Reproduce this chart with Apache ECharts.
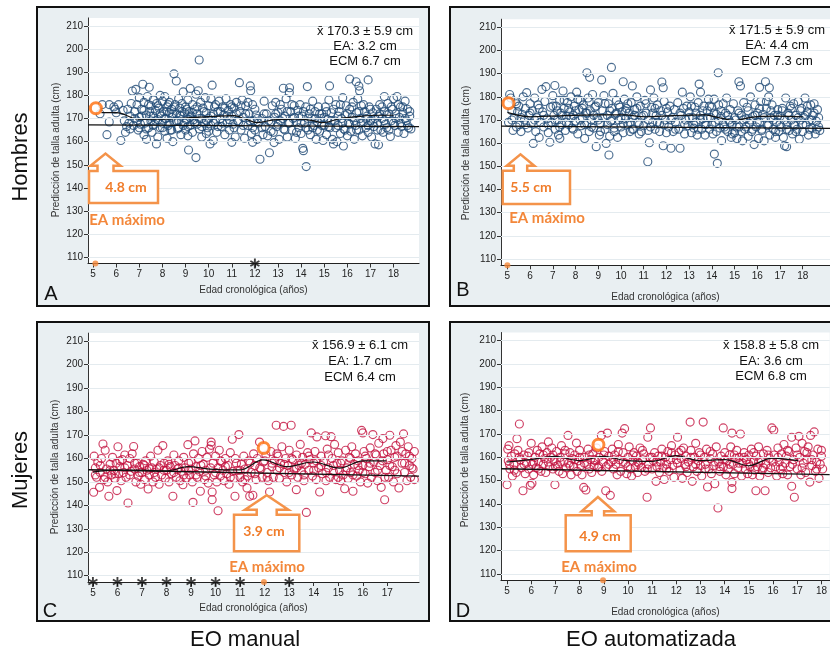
<!DOCTYPE html>
<html><head><meta charset="utf-8">
<script src="https://cdn.jsdelivr.net/npm/echarts@6/dist/echarts.min.js"></script>
<style>html,body{margin:0;padding:0;background:#fff}#c{width:830px;height:654px}</style>
</head><body><div id="c"></div>
<script>
// ---------------- DATA ----------------
const yTicks = [110,120,130,140,150,160,170,180,190,200,210];
const xTicksFull = [5,6,7,8,9,10,11,12,13,14,15,16,17,18];
const xTicksC = [5,6,7,8,9,10,11,12,13,14,15,16,17];

const statsA = ['x\u0304 170.3 \u00b1 5.9 cm','EA: 3.2 cm','ECM 6.7 cm'];
const statsB = ['x\u0304 171.5 \u00b1 5.9 cm','EA: 4.4 cm','ECM 7.3 cm'];
const statsC = ['x\u0304 156.9 \u00b1 6.1 cm','EA: 1.7 cm','ECM 6.4 cm'];
const statsD = ['x\u0304 158.8 \u00b1 5.8 cm','EA: 3.6 cm','ECM 6.8 cm'];
const maxErrA = '4.8 cm', maxErrB = '5.5 cm', maxErrC = '3.9 cm', maxErrD = '4.9 cm';

// Hombres - EO manual (A)
const hombresManual = [[5.3,172],[5.4,176],[5.6,163],[5.7,176],[5.7,168.5],[5.9,175],[5.95,174],[6.0,172.5],[6.1,176],[6.2,160.5],[6.3,173.5],[6.35,169],[6.4,164],[6.45,166.5],[6.5,174],[6.6,171],[6.6,165.5],[6.7,181.9],[6.75,167],[6.8,173],[6.85,182.6],[6.9,169],[6.9,176],[6.95,165],[7.0,179],[7.0,170.5],[7.05,167.5],[7.1,174],[7.15,184.8],[7.2,163],[7.2,177],[7.25,168],[7.3,171.5],[7.31,161],[7.35,179.5],[7.4,166],[7.43,183.5],[7.45,173],[7.5,169],[7.5,175.5],[7.55,164],[7.6,171],[7.6,178],[7.65,167.5],[7.7,173.5],[7.74,159],[7.75,176.5],[7.8,169.5],[7.8,162],[7.85,174.5],[7.9,180],[7.9,166],[7.95,171],[8.0,177.5],[8.0,168],[8.05,173],[8.1,164.5],[8.1,179.5],[8.15,170],[8.2,175],[8.2,161.5],[8.25,167],[8.3,172.5],[8.3,177],[8.35,165],[8.4,170.5],[8.4,174],[8.45,160],[8.5,189.3],[8.5,168.5],[8.55,176],[8.6,186.2],[8.6,172],[8.65,165.5],[8.7,178.5],[8.7,169],[8.75,174.5],[8.8,163],[8.8,171],[8.85,176.5],[8.9,167],[8.9,181.5],[8.95,172.5],[9.0,165],[9.0,175],[9.05,169.5],[9.1,178],[9.1,162.5],[9.13,156.4],[9.15,173],[9.2,183],[9.2,167],[9.25,171],[9.3,176],[9.3,164],[9.35,169.5],[9.4,174],[9.45,153.1],[9.45,180.5],[9.5,167.5],[9.5,172],[9.55,182],[9.59,195.3],[9.6,165.5],[9.65,177],[9.7,170],[9.7,162],[9.75,174.5],[9.8,168],[9.85,179],[9.9,172.5],[9.9,163.5],[9.95,166],[10.0,175.5],[10.0,170],[10.06,159],[10.1,178.5],[10.1,167],[10.15,184.4],[10.2,172],[10.2,160.5],[10.25,175],[10.3,168.5],[10.35,164],[10.4,173],[10.45,177.5],[10.5,170],[10.55,166.5],[10.6,175],[10.65,171.5],[10.7,163],[10.75,178.5],[10.8,168],[10.85,173.5],[10.9,165],[10.95,176],[11.0,159.7],[11.0,171],[11.05,167.5],[11.1,174.5],[11.15,162],[11.2,177],[11.25,169],[11.33,185.5],[11.35,173],[11.4,165],[11.45,178],[11.5,170.5],[11.55,161.5],[11.6,175.5],[11.7,167],[11.75,172],[11.8,184.1],[11.82,182],[11.85,163.5],[11.9,159.7],[11.9,176],[11.95,169],[12.0,165],[12.05,171.5],[12.1,161],[12.15,168],[12.22,152.4],[12.3,170],[12.35,163],[12.4,177.5],[12.45,166.5],[12.5,172],[12.55,162.5],[12.63,155.2],[12.7,168.5],[12.75,175.5],[12.8,164],[12.83,159.6],[12.85,170.5],[12.9,177],[12.95,166.5],[13.0,172.5],[13.05,161],[13.1,169],[13.15,174],[13.23,183.1],[13.25,165.5],[13.3,171],[13.35,178.5],[13.4,162],[13.45,168],[13.49,181.2],[13.5,183.3],[13.55,173],[13.6,165],[13.65,170],[13.7,175.5],[13.75,161.5],[13.8,168.5],[13.85,173.5],[13.9,166],[13.95,176],[14.0,163.5],[14.05,171],[14.07,157.1],[14.1,156.1],[14.15,168],[14.2,175],[14.22,149.2],[14.27,183.8],[14.3,165],[14.35,172],[14.4,163],[14.45,170],[14.5,177.5],[14.55,167],[14.6,173],[14.65,161],[14.7,168.5],[14.75,175],[14.8,164.5],[14.85,170],[14.9,172],[14.95,160.5],[15.0,167],[15.05,175],[15.1,163],[15.15,169.5],[15.2,178],[15.23,184.1],[15.25,166],[15.3,172.5],[15.35,161],[15.4,159],[15.45,169],[15.5,176],[15.55,160],[15.6,167],[15.65,173],[15.7,163.5],[15.75,170],[15.8,179],[15.83,158.1],[15.85,165.5],[15.9,171.5],[15.95,175.5],[16.0,162.5],[16.05,168],[16.1,187.1],[16.1,174],[16.15,164.5],[16.2,170.5],[16.25,177],[16.3,161],[16.35,167],[16.38,185.9],[16.4,172.5],[16.45,178.5],[16.5,184],[16.5,165],[16.53,182],[16.55,170],[16.6,175.5],[16.65,162.5],[16.7,168.5],[16.75,173],[16.8,166],[16.85,171],[16.9,186.7],[16.9,164],[16.95,175],[17.0,169],[17.05,162],[17.1,172.5],[17.15,166.5],[17.2,159],[17.25,174],[17.3,168],[17.35,158.6],[17.35,171],[17.4,176],[17.45,165],[17.5,170],[17.55,164],[17.6,179.5],[17.6,173],[17.65,167.5],[17.7,171.5],[17.75,176.5],[17.8,165],[17.86,162.2],[17.9,169],[17.95,174],[18.0,178.5],[18.05,167],[18.1,172],[18.15,179.5],[18.2,164],[18.25,170.5],[18.3,175],[18.35,166.5],[18.4,172.5],[18.45,163.5],[18.5,177.5],[18.55,169],[18.6,174],[18.65,166],[18.7,171],[18.75,165.5]];
const hombresManualCore = [[6.55,168],[6.65,176.5],[6.8,170],[7.0,166],[7.1,171],[7.2,173.5],[7.3,165.5],[7.4,176],[7.5,171],[7.6,167],[7.7,169],[7.8,175.5],[7.9,172],[8.0,166],[8.1,170],[8.2,173],[8.25,176],[8.3,168],[8.4,165],[8.45,172],[8.5,175],[8.6,169],[8.7,166],[8.75,171.5],[8.85,173],[8.95,168],[9.05,174],[9.1,166.5],[9.2,170.5],[9.3,172.5],[9.4,168],[9.5,175],[9.6,170],[9.7,166.5],[9.8,173],[9.9,169],[10.0,164.5],[10.1,171],[10.2,168],[10.3,176],[10.4,166.5],[10.5,173],[10.6,168],[10.7,174.5],[10.8,171],[10.9,169.5],[11.0,175],[11.1,166],[11.2,172],[11.3,168.5],[11.4,175.5],[11.5,167],[11.6,172],[11.7,177],[11.8,169],[11.9,166],[12.0,174],[12.1,170],[12.3,166],[12.4,172],[12.6,169],[12.7,164.5],[12.9,172],[13.0,167.5],[13.1,176],[13.2,170],[13.3,165],[13.4,173],[13.5,168],[13.6,176],[13.7,170.5],[13.8,164],[13.9,171],[14.0,168],[14.1,173],[14.2,166],[14.3,170],[14.4,174],[14.5,166],[14.6,170],[14.7,165],[14.8,172],[14.9,167],[15.0,170.5],[15.1,173],[15.2,166.5],[15.3,169],[15.4,174],[15.5,166],[15.6,171],[15.7,176],[15.8,168],[15.9,165],[16.0,172],[16.1,167.5],[16.2,175],[16.3,169],[16.4,165],[16.5,173],[16.6,168],[16.7,176],[16.8,170],[16.9,167],[17.0,174],[17.1,168],[17.2,170],[17.3,165],[17.4,172],[17.5,175],[17.6,169],[17.7,166],[17.8,172],[17.9,175],[18.0,168],[18.1,170],[18.2,176],[18.3,168],[18.4,175],[18.5,170],[18.6,167],[18.7,173]];

// Hombres - EO automatizada (B)
const hombresAuto = [[5.05,169],[5.1,181],[5.15,179.5],[5.2,174],[5.25,165.5],[5.3,171],[5.35,178],[5.4,167],[5.45,173.5],[5.5,176],[5.55,168],[5.6,165],[5.65,172.5],[5.7,180],[5.75,170],[5.8,175],[5.85,181.8],[5.9,166.5],[5.95,172],[6.0,177],[6.05,168.5],[6.1,174],[6.14,159.9],[6.2,179.5],[6.25,165],[6.3,171],[6.35,176.5],[6.4,162.5],[6.45,169],[6.52,183.2],[6.55,173.5],[6.6,167],[6.65,178],[6.7,184.4],[6.75,170.5],[6.8,164.5],[6.87,160.4],[6.9,175.5],[6.95,169],[7.0,180.5],[7.05,172],[7.09,184.9],[7.1,166],[7.15,176],[7.2,170],[7.25,163.5],[7.3,178.5],[7.31,162.1],[7.35,173],[7.4,168],[7.45,182.5],[7.5,175],[7.55,165.5],[7.6,171.5],[7.65,177.5],[7.7,168],[7.75,173.5],[7.8,180],[7.85,166.5],[7.9,172],[7.95,176],[8.0,169.5],[8.05,182],[8.1,164],[8.15,174.5],[8.2,178.5],[8.25,167.5],[8.3,171],[8.35,176.5],[8.4,162],[8.45,173],[8.5,190.4],[8.5,168.5],[8.55,179.5],[8.6,165],[8.62,188.4],[8.65,174],[8.7,170],[8.75,181],[8.8,166.5],[8.85,175.5],[8.91,158.5],[8.95,171],[9.0,177.5],[9.05,163.5],[9.1,168.5],[9.15,187.3],[9.2,174],[9.25,180.5],[9.3,166],[9.35,159.9],[9.4,172],[9.45,177],[9.47,154.9],[9.5,163],[9.55,169.5],[9.58,192.7],[9.6,175],[9.65,181.5],[9.7,166.5],[9.75,172.5],[9.8,178.5],[9.85,162.5],[9.9,170],[9.95,175.5],[10.0,167],[10.05,173.5],[10.1,186.5],[10.1,164.5],[10.15,179],[10.2,170.5],[10.25,175],[10.3,168],[10.35,173],[10.4,165],[10.45,177.5],[10.5,184.7],[10.5,171],[10.55,166],[10.6,174.5],[10.7,180],[10.75,169],[10.8,164],[10.85,176],[10.9,171.5],[11.0,167.5],[11.05,178.5],[11.1,173],[11.18,152],[11.2,165.5],[11.25,160.2],[11.3,183],[11.35,175.5],[11.4,169],[11.45,179.5],[11.5,166],[11.55,172],[11.6,176.5],[11.7,168.5],[11.75,174],[11.8,186.4],[11.86,183.9],[11.86,158.9],[11.9,178],[11.95,170],[12.0,164.5],[12.05,173.5],[12.1,167],[12.15,176],[12.2,157.8],[12.25,171],[12.3,165],[12.35,174.5],[12.4,169],[12.5,177.5],[12.55,166],[12.6,157.8],[12.65,172],[12.7,182],[12.75,175],[12.8,164],[12.85,170],[12.9,176],[12.95,167.5],[13.0,173.5],[13.05,180],[13.1,164.5],[13.15,171],[13.2,166.5],[13.25,175.5],[13.3,169],[13.35,163.5],[13.4,177.5],[13.44,185.5],[13.5,182],[13.5,172],[13.55,166],[13.6,170.5],[13.65,176],[13.7,163.5],[13.75,168],[13.8,174],[13.85,179],[13.9,166],[13.95,171],[14.0,175.5],[14.05,164],[14.1,179],[14.11,155.3],[14.15,169],[14.2,172.5],[14.24,151.3],[14.28,190.4],[14.3,176.5],[14.35,166.5],[14.4,171.5],[14.43,161.1],[14.5,177],[14.55,167],[14.6,173],[14.65,179.5],[14.7,165],[14.75,170],[14.8,174.5],[14.85,162.5],[14.9,168],[14.95,177],[15.0,164.5],[15.05,170],[15.1,162],[15.15,174],[15.19,186.5],[15.2,167],[15.26,184.7],[15.3,172],[15.35,161],[15.4,177.5],[15.45,166],[15.5,170.5],[15.55,175.5],[15.6,163],[15.65,168.5],[15.7,180],[15.75,165],[15.8,171.5],[15.86,159.4],[15.9,176.5],[15.95,167],[16.0,173],[16.05,162],[16.1,184.1],[16.1,169],[16.15,178],[16.2,165.5],[16.25,172.5],[16.3,161],[16.36,186.5],[16.4,175],[16.45,167.5],[16.5,180],[16.53,183.9],[16.55,163.5],[16.6,171],[16.65,176.5],[16.7,166],[16.75,172],[16.8,162.5],[16.85,169],[16.9,174.5],[16.95,165],[17.0,171.5],[17.05,167],[17.1,175],[17.15,162.5],[17.2,158.9],[17.25,179.5],[17.29,158.5],[17.3,168],[17.35,173],[17.4,165.5],[17.45,176],[17.5,170],[17.55,164],[17.6,177],[17.65,167.5],[17.7,172],[17.75,166],[17.8,178],[17.85,161.7],[17.9,170],[17.95,175],[18.0,165],[18.05,171],[18.1,179.5],[18.15,168],[18.2,173.5],[18.25,163.5],[18.3,170],[18.35,176.5],[18.4,166.5],[18.45,172],[18.5,177],[18.55,164],[18.6,169.5],[18.65,174.5],[18.7,167],[18.75,165.5]];
const hombresAutoCore = [[5.2,170],[5.4,177],[5.6,171],[5.8,168],[6.0,173],[6.2,170],[6.4,175],[6.6,172],[6.8,168],[7.0,176],[7.1,170],[7.2,174],[7.3,167],[7.4,172],[7.5,178.5],[7.6,169],[7.7,175],[7.8,171],[7.9,166],[8.0,174],[8.1,179],[8.2,170],[8.3,175],[8.4,168],[8.5,173],[8.6,178],[8.7,167],[8.8,172],[8.9,176],[9.0,170],[9.1,165],[9.2,171],[9.3,177],[9.4,168],[9.5,174],[9.6,170],[9.7,165],[9.8,173],[9.9,176.5],[10.0,171],[10.1,168.5],[10.2,174],[10.3,177],[10.4,169],[10.5,166],[10.6,172],[10.7,175],[10.8,168],[10.9,165],[11.0,172],[11.1,177],[11.2,170],[11.3,167],[11.4,173],[11.5,175],[11.6,169],[11.7,165],[11.8,172],[11.9,168],[12.0,175],[12.2,170],[12.4,166],[12.6,173],[12.8,168],[13.0,171],[13.1,176],[13.2,168],[13.3,173],[13.4,166],[13.5,170],[13.6,174],[13.7,168],[13.8,171],[13.9,176],[14.0,168],[14.1,173],[14.2,165],[14.3,170],[14.4,174],[14.5,168],[14.6,166],[14.7,172],[14.8,169],[14.9,164],[15.0,171],[15.1,167],[15.2,173],[15.3,165],[15.4,170],[15.5,167],[15.6,174],[15.7,170],[15.8,166],[15.9,172],[16.0,169],[16.1,175],[16.2,166],[16.3,171],[16.4,178],[16.5,168],[16.6,174],[16.7,170],[16.8,165],[16.9,172],[17.0,168],[17.1,174],[17.2,170],[17.3,166],[17.4,172],[17.5,175],[17.6,168],[17.7,165],[17.8,171],[17.9,174],[18.0,168],[18.1,172],[18.2,176],[18.3,166],[18.4,170],[18.5,173],[18.6,166],[18.7,171]];

// Mujeres - EO manual (C)
const mujeresManual = [[5.03,145.6],[5.05,161],[5.1,156],[5.15,152],[5.2,158.5],[5.27,147.7],[5.3,154],[5.35,160],[5.41,166.2],[5.45,151],[5.5,163.5],[5.55,155.5],[5.6,150],[5.65,143.9],[5.7,157.5],[5.75,153],[5.8,160.5],[5.85,155],[5.9,151.5],[5.95,158],[5.98,146.3],[6.02,165],[6.05,153.5],[6.1,156.5],[6.15,150.5],[6.2,159.5],[6.25,154],[6.3,161.5],[6.35,152],[6.4,157],[6.43,141],[6.5,160],[6.55,154.5],[6.6,162],[6.66,165.1],[6.7,155.5],[6.75,150],[6.8,158],[6.85,152.5],[6.9,156.5],[6.95,149],[7.0,154],[7.05,157.5],[7.1,151],[7.15,159],[7.2,155],[7.25,147],[7.3,153],[7.35,161],[7.4,156],[7.45,150],[7.5,158.5],[7.55,152],[7.6,155.5],[7.65,163.5],[7.7,149],[7.75,157],[7.8,153],[7.85,165.5],[7.9,158],[7.95,151.5],[8.0,155],[8.05,159],[8.1,150],[8.15,156.5],[8.2,153.5],[8.26,143.9],[8.3,161.5],[8.35,157],[8.4,152],[8.45,155.5],[8.5,159],[8.55,150.5],[8.6,154.5],[8.67,148.8],[8.7,160.5],[8.75,156],[8.8,151.5],[8.87,165.9],[8.9,158],[8.95,153],[9.0,155.5],[9.05,150],[9.08,141.3],[9.1,162],[9.16,167.5],[9.2,156.5],[9.25,152],[9.3,160],[9.35,154.5],[9.38,146],[9.45,163],[9.5,157.5],[9.55,151],[9.6,155],[9.65,160.5],[9.7,149.5],[9.75,164],[9.82,167],[9.82,165.6],[9.86,142.4],[9.86,145.7],[9.9,158],[9.95,153],[10.0,161],[10.05,150],[10.1,137.7],[10.1,156],[10.15,163.5],[10.2,152.5],[10.25,158.5],[10.3,155],[10.35,150.5],[10.4,160],[10.45,153.5],[10.5,157],[10.55,149],[10.6,162.5],[10.68,168.2],[10.7,154.5],[10.75,151.5],[10.79,143.9],[10.85,158],[10.9,155],[10.95,170.2],[11.0,152],[11.05,157.5],[11.1,150],[11.15,161],[11.2,155.5],[11.28,147.4],[11.3,152.5],[11.35,159],[11.39,143.9],[11.45,154],[11.52,144.3],[11.55,162],[11.6,157],[11.65,151],[11.7,160],[11.79,167],[11.85,155.5],[11.9,152],[11.95,158.5],[12.05,161.5],[12.1,154],[12.15,150.5],[12.2,145.7],[12.25,163],[12.3,156.5],[12.35,152],[12.4,159],[12.47,174.2],[12.5,155],[12.55,161],[12.6,151.5],[12.65,158],[12.7,165],[12.77,173.7],[12.8,154],[12.85,160],[12.9,150],[12.95,157],[13.0,163.5],[13.08,174.2],[13.1,153],[13.15,159.5],[13.2,155.5],[13.29,146.7],[13.3,161.5],[13.35,152],[13.4,157],[13.45,166],[13.5,154.5],[13.55,160.5],[13.6,150.5],[13.65,157.5],[13.7,137],[13.75,162.5],[13.8,155],[13.85,159.5],[13.9,170.9],[13.95,152.5],[14.0,158],[14.05,163],[14.1,151],[14.13,169.2],[14.2,156],[14.24,145.7],[14.3,161],[14.35,153.5],[14.4,158.5],[14.48,169.7],[14.5,150.5],[14.55,164],[14.6,156],[14.65,152],[14.71,169.3],[14.75,160],[14.8,154.5],[14.85,166],[14.9,151],[14.95,158],[15.0,162.5],[15.05,155],[15.1,150.5],[15.15,159],[15.2,153],[15.26,147.1],[15.3,163.5],[15.35,156],[15.4,151.5],[15.45,160.5],[15.5,154],[15.55,165],[15.6,146],[15.65,157.5],[15.7,162],[15.75,152.5],[15.8,159],[15.85,155],[15.9,150],[15.95,172],[16.0,170.9],[16.0,157],[16.05,163],[16.1,153.5],[16.15,160],[16.2,149.5],[16.25,156.5],[16.3,164.5],[16.35,152],[16.41,170.2],[16.45,158.5],[16.5,154],[16.55,161.5],[16.6,150.5],[16.65,166.5],[16.7,157],[16.75,147.7],[16.82,168.5],[16.85,162],[16.89,142.4],[16.95,155],[17.0,159.5],[17.05,152],[17.1,169.9],[17.15,163.5],[17.2,156.5],[17.25,150],[17.3,160.5],[17.35,165.5],[17.4,153.5],[17.47,147.4],[17.53,167],[17.6,158],[17.66,170.5],[17.7,154],[17.75,162],[17.8,150.5],[17.85,165],[17.9,157],[17.95,152],[18.0,160],[18.05,155.5],[18.1,151]];
const mujeresManualCore = [[5.1,153],[5.3,157],[5.5,152],[5.7,155],[5.9,153.5],[6.1,159],[6.3,156],[6.5,153],[6.7,158],[6.9,154],[7.1,157],[7.3,155.5],[7.5,154],[7.7,156],[7.9,155],[8.1,157.5],[8.3,154],[8.5,156],[8.7,153],[8.9,155],[9.0,158.5],[9.2,153],[9.4,157],[9.6,152.5],[9.8,156],[10.0,154],[10.2,159],[10.4,156.5],[10.6,152],[10.8,160],[11.0,155],[11.2,151],[11.4,158],[11.6,153.5],[11.8,156],[12.0,159],[12.1,152],[12.3,158],[12.5,162],[12.6,156],[12.8,157.5],[13.0,154],[13.1,160],[13.3,156],[13.5,158],[13.6,153],[13.8,161],[14.0,155],[14.1,159],[14.3,157],[14.5,154],[14.6,161.5],[14.8,157],[15.0,152],[15.1,158],[15.3,155],[15.5,160],[15.6,153],[15.8,157],[16.0,154],[16.1,161],[16.3,158],[16.5,162],[16.6,155],[16.8,159],[16.9,152],[17.0,163],[17.1,157],[17.3,155],[17.4,161],[17.6,163],[17.7,158],[17.9,161],[18.0,156],[18.1,163]];

// Mujeres - EO automatizada (D)
const mujeresAuto = [[5.0,148.3],[5.03,163.5],[5.05,158.5],[5.08,165],[5.12,155],[5.18,160.5],[5.22,152],[5.28,157],[5.32,161.5],[5.38,153.5],[5.41,168],[5.45,163],[5.51,174.3],[5.55,159],[5.6,155.5],[5.66,145.7],[5.7,161],[5.75,153],[5.8,157.5],[5.85,160.5],[5.9,155],[5.96,148],[6.0,166],[6.03,148.9],[6.05,157],[6.1,152.5],[6.15,160],[6.2,155.5],[6.25,163],[6.3,158],[6.35,161.5],[6.4,154],[6.45,164.5],[6.5,157],[6.55,159.5],[6.6,153.5],[6.65,162],[6.71,166.6],[6.75,156],[6.8,160],[6.85,164],[6.9,155],[6.95,158.5],[6.98,148.3],[7.05,162.5],[7.1,156.5],[7.15,154],[7.2,160],[7.25,165],[7.3,153],[7.35,158],[7.4,161.5],[7.45,155.5],[7.52,169.4],[7.55,157.5],[7.6,162],[7.65,152.5],[7.7,159.5],[7.75,156],[7.8,161],[7.87,166.1],[7.9,154],[7.95,158.5],[8.0,163],[8.05,156.5],[8.1,152.5],[8.17,147.1],[8.2,160],[8.26,146],[8.3,157],[8.35,163.5],[8.4,155],[8.45,159],[8.5,153.5],[8.55,161.5],[8.6,156.5],[8.65,158.5],[8.7,164],[8.75,155.5],[8.8,160],[8.9,169.4],[8.92,154],[8.97,158],[9.03,162.5],[9.08,145.7],[9.1,156],[9.15,170.4],[9.2,160.5],[9.27,143.7],[9.3,158],[9.35,163.5],[9.4,155],[9.45,161],[9.5,157],[9.55,152.5],[9.6,165.5],[9.65,159],[9.7,154],[9.76,170.4],[9.8,162],[9.86,172.3],[9.9,157.5],[9.95,153],[10.0,160],[10.05,164.5],[10.1,155],[10.15,152],[10.2,158.5],[10.25,162],[10.3,156],[10.35,160.5],[10.4,153.5],[10.45,157.5],[10.5,164],[10.55,155.5],[10.6,159],[10.65,161.5],[10.7,154],[10.79,142.9],[10.82,168.6],[10.85,157],[10.9,160],[10.93,172.6],[11.0,155],[11.05,158.5],[11.1,162],[11.16,149.7],[11.2,156],[11.25,160.5],[11.3,153.5],[11.35,158],[11.4,163.5],[11.45,155.5],[11.5,150.5],[11.55,160],[11.6,157],[11.65,162.5],[11.7,154],[11.75,159],[11.8,165],[11.85,156.5],[11.9,151.5],[11.95,161],[12.05,168.6],[12.05,157.5],[12.1,162],[12.15,154.5],[12.2,159.5],[12.25,151],[12.3,164],[12.35,157],[12.4,160.5],[12.45,153.5],[12.5,158],[12.57,175.1],[12.6,163],[12.66,149.7],[12.7,156],[12.75,160],[12.8,166],[12.85,154],[12.9,158.5],[12.95,162],[13.0,156.5],[13.05,152],[13.11,175.1],[13.15,160],[13.2,157],[13.25,163.5],[13.29,147.3],[13.35,155],[13.4,159.5],[13.45,153],[13.5,161.5],[13.55,156.5],[13.59,148.7],[13.65,164.5],[13.72,138.3],[13.75,158],[13.8,154],[13.85,160.5],[13.94,172.6],[13.95,156],[14.0,162],[14.05,152.5],[14.1,158.5],[14.15,155],[14.2,161],[14.25,164.5],[14.3,146.6],[14.3,149.3],[14.3,170.4],[14.35,157],[14.4,153],[14.45,159.5],[14.5,163],[14.55,155.5],[14.6,160],[14.65,170],[14.7,152],[14.75,157.5],[14.8,162],[14.85,155],[14.9,159],[14.95,153],[15.0,161],[15.05,156],[15.1,163.5],[15.15,152.5],[15.2,158],[15.25,154.5],[15.29,145.7],[15.3,160.5],[15.35,156],[15.4,164.5],[15.45,152],[15.5,158.5],[15.55,154.5],[15.6,161.5],[15.67,145.7],[15.7,157],[15.75,163],[15.8,153.5],[15.85,159.5],[15.9,155.5],[15.95,172.6],[16.03,171.6],[16.05,161],[16.1,156],[16.15,152],[16.2,164],[16.25,158],[16.3,155],[16.35,161.5],[16.4,153],[16.45,165.5],[16.5,157.5],[16.55,160.5],[16.6,152.5],[16.65,162.5],[16.7,156],[16.77,168.6],[16.77,147.6],[16.85,159],[16.88,142.9],[16.95,164],[17.0,155],[17.07,169],[17.1,160],[17.15,152.5],[17.2,166],[17.25,157.5],[17.3,162.5],[17.35,153.5],[17.4,159],[17.45,164.5],[17.52,149.4],[17.55,169.4],[17.6,156.5],[17.65,161],[17.7,170.9],[17.75,154],[17.8,158],[17.85,163.5],[17.9,151],[17.95,157],[18.0,160.5],[18.05,155]];
const mujeresAutoCore = [[5.1,157],[5.3,154.5],[5.5,160],[5.7,157],[5.9,162],[6.1,158],[6.3,155],[6.5,161],[6.7,158],[6.9,161],[7.0,156],[7.2,158],[7.4,163],[7.6,156.5],[7.8,159],[8.0,160],[8.2,157.5],[8.4,161],[8.6,159],[8.8,156],[9.0,161],[9.2,157],[9.4,159],[9.6,162.5],[9.8,158],[10.0,156],[10.2,161],[10.4,158],[10.6,163],[10.8,155],[11.0,160],[11.2,158],[11.4,160.5],[11.6,155],[11.8,162],[12.0,159],[12.2,163],[12.4,156],[12.6,160],[12.8,157],[13.0,161],[13.2,155],[13.4,162.5],[13.6,158],[13.8,156],[14.0,159],[14.2,157],[14.4,161],[14.6,157.5],[14.8,160],[15.0,157],[15.2,162],[15.4,158],[15.6,155.5],[15.8,161],[16.0,158],[16.2,160],[16.4,156],[16.6,163],[16.8,157],[17.0,161],[17.2,155.5],[17.4,162],[17.6,159],[17.8,155],[18.0,163]];

// Straight reference lines (value at left and right end of the axis)
const fitA = [[4.78,167.2],[19.1,166.5]];
const fitB = [[4.72,167.4],[19.2,166.4]];
const fitC = [[4.8,155.2],[18.29,152.5]];
const fitD = [[4.75,155.1],[18.34,152.6]];

// Smoothed trend lines
const trendA = [[5.36,172.5],[6.0,172.5],[7.0,169.7],[8.0,169.7],[9.0,170.2],[10.0,170.8],[11.1,171.2],[11.6,169.7],[12.1,168.2],[12.8,169.4],[13.8,169.7],[14.5,169.1],[14.9,168.2],[15.7,170.0],[16.4,170.8],[17.4,171.4],[18.0,171.4]];
const trendB = [[5.0,173.3],[6.0,171.4],[6.87,171.7],[9.06,172.2],[10.1,172.2],[11.1,171.4],[12.3,171.9],[13.7,172.2],[14.0,171.7],[14.5,170.6],[15.0,169.7],[15.5,170.7],[16.1,171.6],[16.9,171.7],[18.0,171.4]];
const trendC = [[5.0,154.2],[5.95,155.0],[6.9,155.0],[8.0,154.7],[8.9,156.5],[9.75,155.5],[10.98,155.1],[11.93,159.4],[12.9,156.5],[13.97,158.5],[15.05,155.9],[16.0,159.0],[16.96,159.0]];
const trendD = [[5.0,158.0],[5.96,159.0],[6.98,160.4],[8.0,158.6],[8.97,160.4],[9.93,158.6],[11.0,158.3],[11.98,160.7],[12.94,158.6],[14.03,159.0],[14.99,156.4],[15.95,159.7],[17.04,158.6]];

// Case with maximum absolute error (highlighted) and its age mark on the x axis
const maxCaseA = [5.12,174.4], maxCaseB = [5.05,177.2], maxCaseC = [11.96,164.5], maxCaseD = [8.78,165.4];
const maxAgeA = 5.1, maxAgeB = 5.0, maxAgeC = 11.97, maxAgeD = 8.97;

// Ages marked with an asterisk
const starAgesA = [12];
const starAgesB = [];
const starAgesC = [5,6,7,8,9,10,11,13];
const starAgesD = [];

// ---------------- LAYOUT / STYLE ----------------
const Y_MIN = 107.3, Y_MAX = 213.5;
const FONT = '"Liberation Sans", Arial, Helvetica, sans-serif';
const BLUE = '#1f4a76', RED = '#c3123f', ORANGE = '#ff6d0a', ORANGE_T = '#f3873a', ORANGE_A = '#f4934a';
const STAR = 'path://M-0.9,-5L0.9,-5L0.9,5L-0.9,5Z M-4.78,-1.72L-3.88,-3.28L4.78,1.72L3.88,3.28Z M3.88,-3.28L4.78,-1.72L-3.88,3.28L-4.78,1.72Z';

const panels = [
  {pts:hombresManual.concat(hombresManualCore), color:BLUE, fit:fitA, trend:trendA, ring:maxCaseA, dot:maxAgeA, stars:starAgesA, xt:xTicksFull,
   grid:{left:88, top:17.9, width:331, height:245.6}, xr:[4.78,19.1], nameGap:22,
   frame:[37,7,392,299], stats:statsA, statsPos:[365,31,46,61], letter:['A',51,294], yname:[56,150],
   arrow:{cx:105.5, tip:153.5, base:165.7, hw:15, sw:8, box:[89,171,158,203]}, err:maxErrA, errPos:[126,187], eaPos:[127,220]},
  {pts:hombresAuto.concat(hombresAutoCore), color:BLUE, fit:fitB, trend:trendB, ring:maxCaseB, dot:maxAgeB, stars:starAgesB, xt:xTicksFull,
   grid:{left:501, top:19.2, width:331, height:246.1}, xr:[4.72,19.2], nameGap:27,
   frame:[450,7,400,299], stats:statsB, statsPos:[777,30,45,61], letter:['B',463,290], yname:[466,153],
   arrow:{cx:520.5, tip:154.3, base:165.7, hw:13.8, sw:6.7, box:[502.7,170.7,570,204]}, err:maxErrB, errPos:[531,187], eaPos:[547,218]},
  {pts:mujeresManual.concat(mujeresManualCore), color:RED, fit:fitC, trend:trendC, ring:maxCaseC, dot:maxAgeC, stars:starAgesC, xt:xTicksC,
   grid:{left:88, top:333.1, width:331, height:248.9}, xr:[4.8,18.29], nameGap:21,
   frame:[37,322,392,299], stats:statsC, statsPos:[360,345,361,377], letter:['C',50,611], yname:[55,467],
   arrow:{cx:266.7, tip:495.3, base:509.7, hw:21.7, sw:10, box:[234,514.7,299.3,551.3]}, err:maxErrC, errPos:[264,531], eaPos:[267,567]},
  {pts:mujeresAuto.concat(mujeresAutoCore), color:RED, fit:fitD, trend:trendD, ring:maxCaseD, dot:maxAgeD, stars:starAgesD, xt:xTicksFull,
   grid:{left:501, top:332.5, width:331, height:247.8}, xr:[4.75,18.34], nameGap:27,
   frame:[450,322,400,299], stats:statsD, statsPos:[771,345,361,376], letter:['D',463,611], yname:[465,460],
   arrow:{cx:597.9, tip:497, base:511.3, hw:16.2, sw:6.2, box:[565.7,515.3,630.7,551.3]}, err:maxErrD, errPos:[600,536], eaPos:[599,567]}
];

const grids=[], xAxes=[], yAxes=[], series=[], graphics=[];
const axisCol = '#333';
panels.forEach((p,i)=>{
  grids.push(Object.assign({show:true, backgroundColor:'#fff', borderWidth:0, containLabel:false}, p.grid));
  xAxes.push({type:'value', gridIndex:i, min:p.xr[0], max:p.xr[1],
    name:'Edad cronológica (años)', nameLocation:'middle', nameGap:p.nameGap,
    nameTextStyle:{fontSize:10, color:'#333', fontFamily:FONT},
    axisLine:{show:true, onZero:false, lineStyle:{color:'#222', width:1.2}},
    axisTick:{show:true, customValues:p.xt, length:4, lineStyle:{color:axisCol}},
    axisLabel:{customValues:p.xt, fontSize:10, color:'#222', margin:6, fontFamily:FONT},
    splitLine:{show:false}});
  yAxes.push({type:'value', gridIndex:i, min:Y_MIN, max:Y_MAX,
    axisLine:{show:true, onZero:false, lineStyle:{color:axisCol, width:1}},
    axisTick:{show:true, customValues:yTicks, length:4, lineStyle:{color:axisCol}},
    axisLabel:{customValues:yTicks, fontSize:10, color:'#222', margin:5, fontFamily:FONT},
    splitLine:{show:false}});
  series.push({type:'scatter', xAxisIndex:i, yAxisIndex:i, data:[], z:1, silent:true,
    markLine:{silent:true, symbol:['none','none'], label:{show:false}, animation:false,
      lineStyle:{color:'#e4ebef', width:1, type:'solid'}, data:yTicks.map(v=>({yAxis:v}))}});
  series.push({type:'scatter', xAxisIndex:i, yAxisIndex:i, data:p.pts, symbol:'circle', symbolSize:8, z:2, silent:true,
    itemStyle:{color:'rgba(0,0,0,0)', borderColor:p.color, borderWidth:1.15}});
  series.push({type:'line', xAxisIndex:i, yAxisIndex:i, data:p.fit, symbol:'none', z:3, silent:true,
    lineStyle:{color:'#111', width:1.3}});
  series.push({type:'line', xAxisIndex:i, yAxisIndex:i, data:p.trend, symbol:'none', smooth:0.35, z:3, silent:true,
    lineStyle:{color:'#111', width:1.2}});
  series.push({type:'scatter', xAxisIndex:i, yAxisIndex:i, data:[p.ring], symbol:'circle', symbolSize:11, z:6, silent:true,
    itemStyle:{color:'#fff', borderColor:ORANGE, borderWidth:3}});
  series.push({type:'scatter', xAxisIndex:i, yAxisIndex:i, data:[[p.dot, Y_MIN]], symbol:'circle', symbolSize:6, z:6, silent:true,
    itemStyle:{color:'#f5883a'}});
  series.push({type:'scatter', xAxisIndex:i, yAxisIndex:i, data:p.stars.map(a=>[a, Y_MIN]), symbol:STAR, symbolSize:10, z:6, silent:true,
    itemStyle:{color:'#111'}});

  graphics.push({type:'rect', z:-100, shape:{x:p.frame[0], y:p.frame[1], width:p.frame[2], height:p.frame[3]},
    style:{fill:'#e9eff2', stroke:'#111', lineWidth:2}});
  p.stats.forEach((t,k)=>{
    graphics.push({type:'text', z:50, style:{text:t, x:p.statsPos[0], y:p.statsPos[k+1], textAlign:'center', textVerticalAlign:'middle',
      font:'13px '+FONT, fill:'#111'}});
  });
  graphics.push({type:'text', z:50, style:{text:p.letter[0], x:p.letter[1], y:p.letter[2], textAlign:'center', textVerticalAlign:'middle',
    font:'20px '+FONT, fill:'#111'}});
  graphics.push({type:'text', z:50, x:p.yname[0], y:p.yname[1], rotation:Math.PI/2,
    style:{text:'Predicción de talla adulta (cm)', x:0, y:0, textAlign:'center', textVerticalAlign:'middle', font:'10px '+FONT, fill:'#333'}});
  const a = p.arrow, b = a.box;
  const poly = [[b[0],b[1]],[a.cx-a.sw,b[1]],[a.cx-a.sw,a.base],[a.cx-a.hw,a.base],[a.cx,a.tip],[a.cx+a.hw,a.base],
    [a.cx+a.sw,a.base],[a.cx+a.sw,b[1]],[b[2],b[1]],[b[2],b[3]],[b[0],b[3]]];
  graphics.push({type:'polygon', z:40, shape:{points:poly}, style:{fill:'#fff', stroke:ORANGE_A, lineWidth:2.5, lineJoin:'miter'}});
  graphics.push({type:'text', z:50, style:{text:p.err, x:p.errPos[0], y:p.errPos[1], textAlign:'center', textVerticalAlign:'middle',
    font:'bold 14px Lato, '+FONT, fill:'#f07c2a'}});
  graphics.push({type:'text', z:50, style:{text:'EA máximo', x:p.eaPos[0], y:p.eaPos[1], textAlign:'center', textVerticalAlign:'middle',
    font:'bold 15px Lato, '+FONT, fill:ORANGE_T}});
});

graphics.push({type:'text', x:21, y:157, rotation:Math.PI/2, style:{text:'Hombres', x:0, y:0, textAlign:'center', textVerticalAlign:'middle', font:'22px '+FONT, fill:'#111'}});
graphics.push({type:'text', x:21, y:470, rotation:Math.PI/2, style:{text:'Mujeres', x:0, y:0, textAlign:'center', textVerticalAlign:'middle', font:'22px '+FONT, fill:'#111'}});
graphics.push({type:'text', style:{text:'EO manual', x:245, y:640, textAlign:'center', textVerticalAlign:'middle', font:'22px '+FONT, fill:'#111'}});
graphics.push({type:'text', style:{text:'EO automatizada', x:651, y:640, textAlign:'center', textVerticalAlign:'middle', font:'22px '+FONT, fill:'#111'}});

const chart = echarts.init(document.getElementById('c'), null, {renderer:'canvas'});
chart.setOption({
  backgroundColor:'#fff',
  animation:false,
  grid:grids, xAxis:xAxes, yAxis:yAxes, series:series,
  graphic:{elements:graphics}
});
</script></body></html>
